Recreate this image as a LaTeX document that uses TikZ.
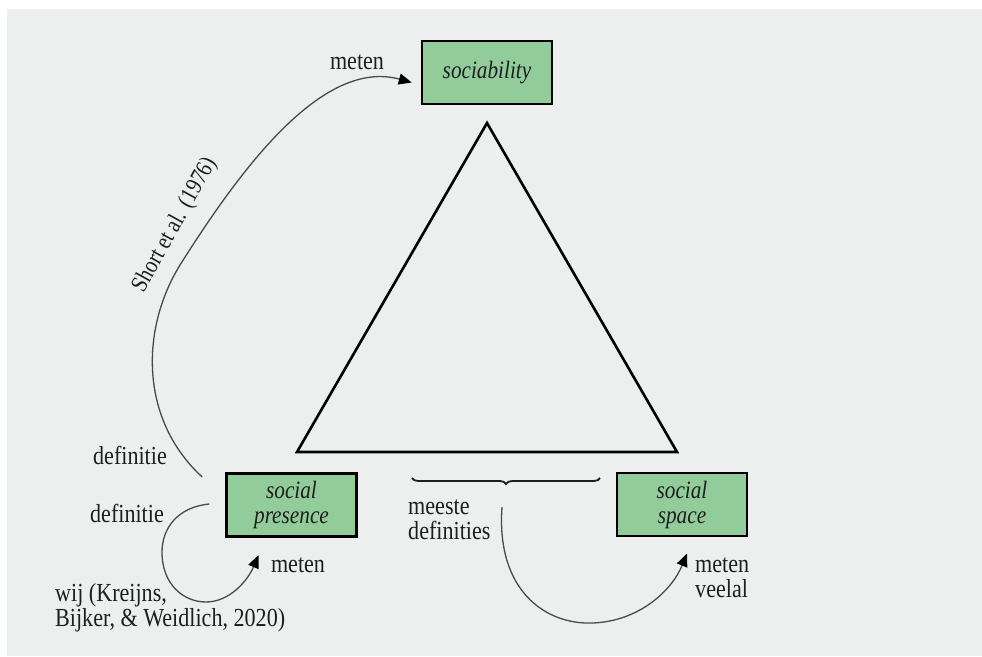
\documentclass[tikz,border=0pt]{standalone}
\usepackage{fontspec}
\setmainfont{Liberation Serif}[FakeStretch=0.85]
\usetikzlibrary{arrows.meta,decorations.pathreplacing}
\definecolor{bggray}{HTML}{EDEFEF}
\definecolor{boxgreen}{HTML}{92CC9B}
\definecolor{linegray}{HTML}{4A4A4A}
\definecolor{textdark}{HTML}{1E1E1E}
\begin{document}
\begin{tikzpicture}[x=1pt,y=-1pt,
  concept/.style={draw=black, line width=2.5pt, fill=boxgreen, minimum width=130pt, minimum height=63pt,
    inner sep=0pt, align=center, font=\fontsize{25}{25}\selectfont\itshape, text=textdark},
  lbl/.style={font=\fontsize{26}{25}\selectfont, text=textdark, inner sep=0pt},
  link/.style={draw=linegray, line width=1.3pt, -{Triangle[length=13pt,width=11pt,color=black]}},
  ]
\useasboundingbox (0,0) rectangle (982,656);
\fill[white] (0,0) rectangle (982,656);
\fill[bggray] (7,9) rectangle (982,656);

% concept boxes
\node[concept] (soc) at (487,72.5) {sociability};
\node[concept] (sp) at (291.5,505) {social\\presence};
\node[concept] (ss) at (682,504.5) {social\\space};

% triangle
\coordinate (apex) at (487,123);
\coordinate (bl) at (297,452);
\coordinate (br) at (677,452);
\draw[line width=2.6pt, line join=miter] (apex) -- (br) -- (bl) -- cycle;

% connector ends
\coordinate (sA) at ([shift={(-23,-28)}]sp.west);
\coordinate (tA) at ([shift={(-9,10)}]soc.west);
\coordinate (sB) at ([shift={(-16,-1)}]sp.west);
\coordinate (tB) at ([shift={(-33,50)}]sp.center);
\coordinate (sC) at (502,507);
\coordinate (tC) at ([shift={(5,49)}]ss.center);

% curves
\draw[link] (sA) .. controls (140,420) and (140,330) .. (180,265)
  .. controls (240,170) and (322,58) .. (tA);
\draw[link] (sB) .. controls (178,507) and (162,528) .. (162,552)
  .. controls (162,585) and (184,602) .. (206,602)
  .. controls (230,602) and (248,580) .. (tB);
\draw[link] (sC) .. controls (496,590) and (545,625) .. (593,623)
  .. controls (640,621) and (672,590) .. (tC);

% brace
\coordinate (brR) at (600,478);
\coordinate (brL) at (412,478);
\draw[line width=1.8pt, color=textdark, decorate, decoration={brace, amplitude=6pt}] (brR) -- (brL);

% labels
\node[lbl] (l1) at (357,62) {meten};
\node[lbl, font=\fontsize{24}{24}\selectfont, rotate=61] (l2) at (175,225) {Short et al. (1976)};
\node[lbl] (l3) at (130,455) {definitie};
\node[lbl] (l4) at (127,513) {definitie};
\node[lbl] (l5) at (298,565) {meten};
\node[lbl, align=left, anchor=west] (l6) at (55,608) {wij (Kreijns,\\Bijker, \& Weidlich, 2020)};
\node[lbl, align=left, anchor=west] (l7) at (408,520) {meeste\\definities};
\node[lbl, align=left, anchor=west] (l8) at (695,578) {meten\\veelal};
\end{tikzpicture}
\end{document}
